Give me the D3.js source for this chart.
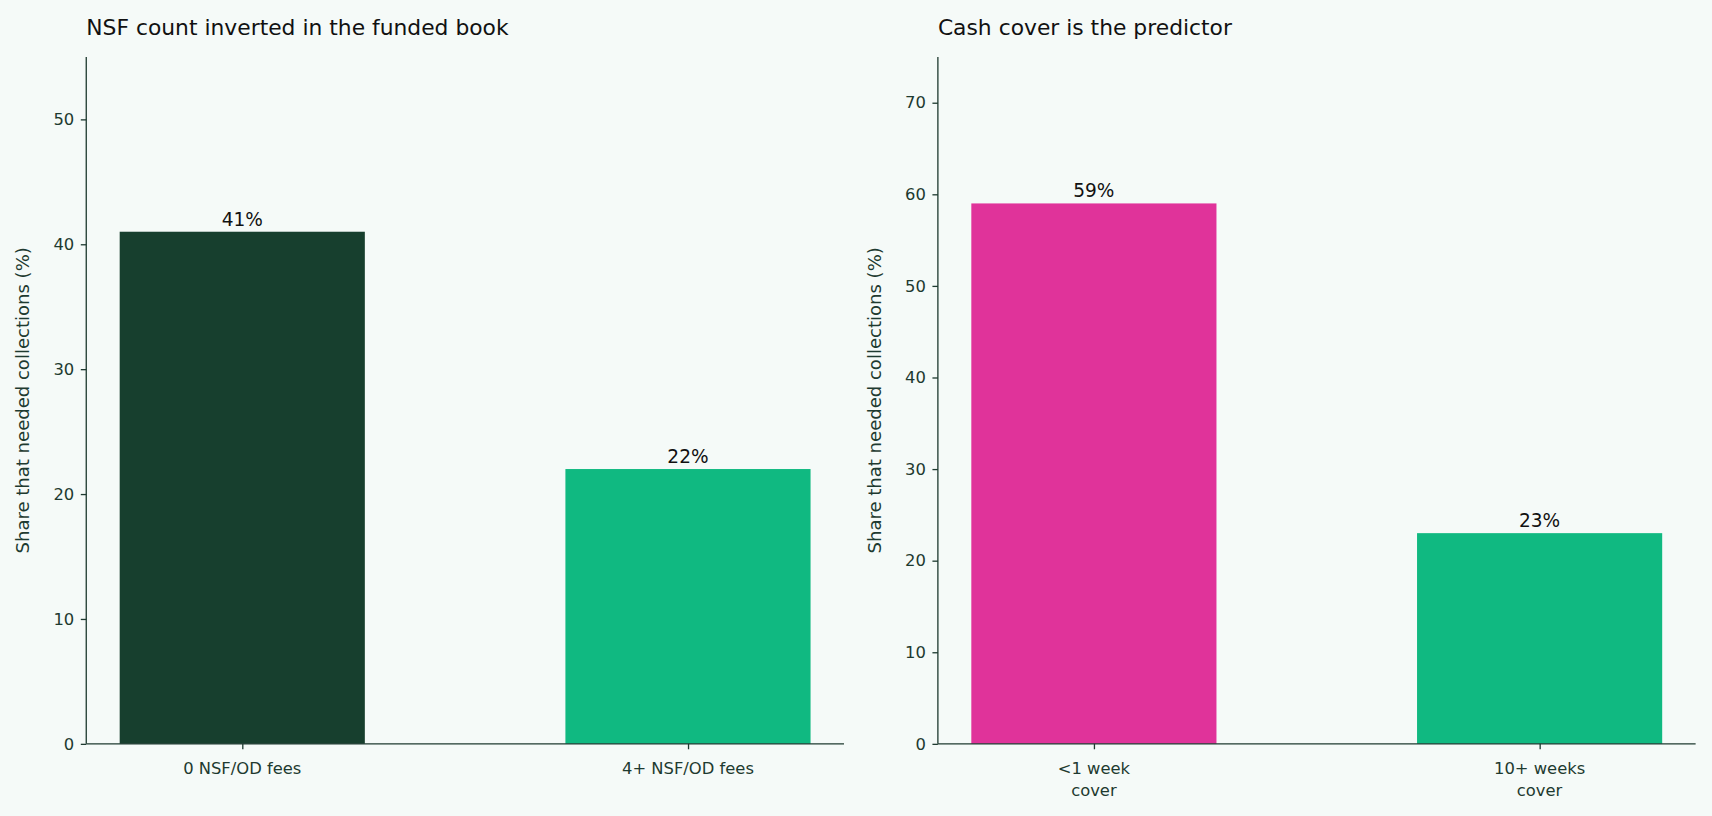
<!DOCTYPE html>
<html><head><meta charset="utf-8">
<script src="https://cdn.jsdelivr.net/npm/d3@7"></script>
<style>html,body{margin:0;background:#f5faf8;}svg{display:block;font-family:"DejaVu Sans",sans-serif;}</style>
</head><body>
<svg id="c" width="1712" height="816" viewBox="0 0 1568 746" preserveAspectRatio="none"></svg>
<script>
const leftCategories = ["0 NSF/OD fees", "4+ NSF/OD fees"];
const leftValues = [41, 22];
const leftColors = ["#173f2e", "#10b981"];
const leftTicks = [0, 10, 20, 30, 40, 50];
const rightCategories = ["<1 week\ncover", "10+ weeks\ncover"];
const rightValues = [59, 23];
const rightColors = ["#e0339a", "#10b981"];
const rightTicks = [0, 10, 20, 30, 40, 50, 60, 70];
const titles = ["NSF count inverted in the funded book", "Cash cover is the predictor"];
const yLabel = "Share that needed collections (%)";

const svg = d3.select("#c");
svg.append("rect").attr("width",1568).attr("height",746).attr("fill","#f5faf8");
const axisColor = "#1e3a30";

function panel(x0, x1, cats, vals, cols, ticks, ymax, title) {
  const top = 52, bottom = 680;
  const x = d3.scaleLinear().domain([-0.35, 1.35]).range([x0, x1]);
  const y = d3.scaleLinear().domain([0, ymax]).range([bottom, top]);
  const g = svg.append("g");
  const bw = x(0.55) - x(0);
  g.selectAll("rect.bar").data(vals).join("rect")
    .attr("x", (d,i)=>x(i)-bw/2).attr("width", bw)
    .attr("y", d=>y(d)).attr("height", d=>bottom-y(d)).attr("fill",(d,i)=>cols[i]);
  g.selectAll("text.val").data(vals).join("text")
    .attr("x",(d,i)=>x(i)).attr("y",d=>y(d)-14).attr("text-anchor","middle")
    .attr("font-size",17).attr("fill","#111").attr("dominant-baseline","auto").attr("dy","0.5em")
    .text(d=>d+"%");
  const ya = g.append("g").attr("transform",`translate(${x0},0)`)
    .call(d3.axisLeft(y).tickValues(ticks).tickSize(5).tickPadding(6));
  const xa = g.append("g").attr("transform",`translate(0,${bottom})`)
    .call(d3.axisBottom(x).tickValues([0,1]).tickSize(5).tickFormat(()=>""));
  [ya, xa].forEach(a=>{
    a.selectAll("path,line").attr("stroke",axisColor).attr("stroke-width",1.2);
    a.selectAll("text").attr("fill",axisColor).attr("font-size",15).attr("font-family","DejaVu Sans");
  });
  xa.select(".domain").attr("d",`M${x0},0H${x1}`);
  ya.select(".domain").attr("d",`M0,${bottom}V${top}`);
  cats.forEach((c,i)=>{
    c.split("\n").forEach((line,j)=>{
      g.append("text").attr("x",x(i)).attr("y",bottom+28+j*20).attr("text-anchor","middle")
        .attr("font-size",15).attr("fill",axisColor).text(line);
    });
  });
  g.append("text").attr("transform",`translate(${x0-52},${(top+bottom)/2}) rotate(-90)`)
    .attr("text-anchor","middle").attr("font-size",16.5).attr("fill",axisColor).text(yLabel);
  g.append("text").attr("x",x0).attr("y",32).attr("font-size",20).attr("fill","#111").text(title);
}
panel(79, 773, leftCategories, leftValues, leftColors, leftTicks, 55, titles[0]);
panel(859, 1553, rightCategories, rightValues, rightColors, rightTicks, 75, titles[1]);
</script>
</body></html>
